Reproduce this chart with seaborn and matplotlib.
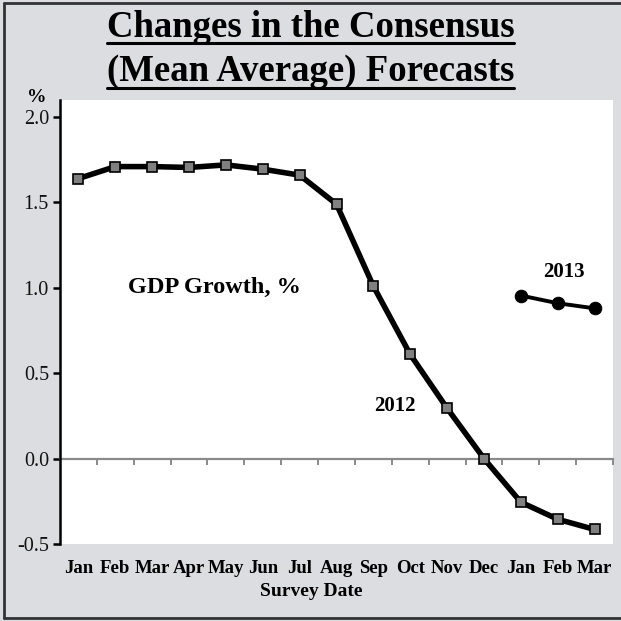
import matplotlib
matplotlib.use("Agg")
import matplotlib.pyplot as plt
from matplotlib.lines import Line2D
import seaborn as sns
import pandas as pd

categories = ["Jan", "Feb", "Mar", "Apr", "May", "Jun", "Jul", "Aug",
              "Sep", "Oct", "Nov", "Dec", "Jan", "Feb", "Mar"]
gdp_2012 = [1.64, 1.71, 1.71, 1.705, 1.72, 1.695, 1.66, 1.49,
            1.01, 0.61, 0.295, 0.0, -0.255, -0.355, -0.415]
gdp_2013_months = ["Jan", "Feb", "Mar"]
gdp_2013 = [0.955, 0.91, 0.88]
yticks = [-0.5, 0.0, 0.5, 1.0, 1.5, 2.0]
ytick_labels = ["-0.5", "0.0", "0.5", "1.0", "1.5", "2.0"]

sns.set_style("white")
plt.rcParams["font.family"] = ["Liberation Serif", "DejaVu Serif"]
plt.rcParams["text.color"] = "black"
plt.rcParams["axes.labelcolor"] = "black"
plt.rcParams["ytick.color"] = "black"

BG = "#dcdde0"
fig = plt.figure(figsize=(6.21, 6.21), dpi=100, facecolor=BG)
ax = fig.add_axes([60 / 621, 77 / 621, 553 / 621, 444 / 621])
ax.set_facecolor("white")

xpos = list(range(len(categories)))
df12 = pd.DataFrame({"x": xpos, "y": gdp_2012})
x13 = xpos[-len(gdp_2013):]
df13 = pd.DataFrame({"x": x13, "y": gdp_2013})

sns.lineplot(data=df12, x="x", y="y", ax=ax, color="black", linewidth=4.0,
             marker="s", markersize=7, markerfacecolor="#808080",
             markeredgecolor="black", markeredgewidth=1.2, zorder=4)
sns.lineplot(data=df13, x="x", y="y", ax=ax, color="black", linewidth=2.8,
             marker="o", markersize=9, markerfacecolor="black",
             markeredgecolor="black", zorder=4)

ax.set_xlim(-0.5, len(categories) - 0.5)
ax.set_ylim(-0.5, 2.1)

for s in ["top", "right"]:
    ax.spines[s].set_visible(False)
ax.spines["left"].set_color("black")
ax.spines["left"].set_linewidth(1.8)
ax.spines["left"].set_bounds(-0.5, 2.1)
ax.spines["bottom"].set_position(("data", 0))
ax.spines["bottom"].set_color("#8a8a8a")
ax.spines["bottom"].set_linewidth(1.6)
ax.spines["bottom"].set_zorder(2)

ax.set_yticks(yticks)
ax.set_yticklabels(ytick_labels, fontsize=14.5, color="#111111")
ax.tick_params(axis="y", direction="out", length=5, width=1.8, color="black",
               pad=3, left=True)

bounds = [i + 0.5 for i in range(len(categories))]
ax.set_xticks(bounds)
ax.set_xticklabels([])
ax.tick_params(axis="x", direction="out", length=4, width=1.4, color="#8a8a8a",
               bottom=True)
ax.set_xlabel("")
ax.set_ylabel("")

for i, c in enumerate(categories):
    ax.text(i, -0.055, c, transform=ax.get_xaxis_transform(), ha="center",
            va="center", fontsize=13.5, fontweight="bold", color="black")
fig.text(311 / 621, 1 - 592 / 621, "Survey Date", ha="center", va="center",
         fontsize=14, fontweight="bold", color="black")

ax.text(3.68, 1.0, "GDP Growth, %", ha="center", va="center", fontsize=17.5,
        fontweight="bold", color="black")
ax.text(13.17, 1.09, "2013", ha="center", va="center", fontsize=15,
        fontweight="bold", color="black")
ax.text(8.59, 0.31, "2012", ha="center", va="center", fontsize=15,
        fontweight="bold", color="black")

fig.text(37 / 621, 1 - 98 / 621, "%", ha="center", va="center", fontsize=14,
         fontweight="bold", color="black")

t1 = fig.text(0.5, 1 - 37 / 621, "Changes in the Consensus", ha="center",
              va="baseline", fontsize=26.5, fontweight="bold", color="black")
t2 = fig.text(0.5, 1 - 81 / 621, "(Mean Average) Forecasts", ha="center",
              va="baseline", fontsize=26.5, fontweight="bold", color="black")

fig.canvas.draw()
r = fig.canvas.get_renderer()
for t, yb in [(t1, 43), (t2, 87.5)]:
    bb = t.get_window_extent(r).transformed(fig.transFigure.inverted())
    fig.add_artist(Line2D([bb.x0, bb.x1], [1 - yb / 621, 1 - yb / 621],
                          transform=fig.transFigure, color="black",
                          linewidth=2.2))

bc = "#333333"
fig.add_artist(Line2D([4 / 621, 4 / 621], [3 / 621, 1 - 3 / 621],
                      transform=fig.transFigure, color=bc, linewidth=2))
fig.add_artist(Line2D([4 / 621, 1], [1 - 3 / 621, 1 - 3 / 621],
                      transform=fig.transFigure, color=bc, linewidth=2))
fig.add_artist(Line2D([4 / 621, 1], [3 / 621, 3 / 621],
                      transform=fig.transFigure, color=bc, linewidth=2))

fig.savefig("out.png", dpi=100, facecolor=BG)
